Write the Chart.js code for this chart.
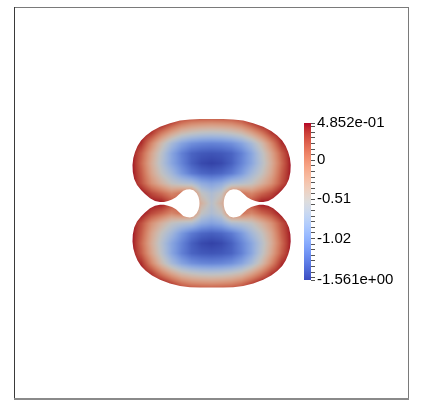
<!DOCTYPE html>
<html lang="en">
<head>
  <meta charset="UTF-8">
  <title>Scalar field</title>
  <script src="https://cdn.jsdelivr.net/npm/chart.js"></script>
  <style>
    body { margin: 0; background: #ffffff; }
    #wrap { position: relative; width: 423px; height: 407px; }
    #field { position: absolute; left: 0; top: 0; }
    #bar { position: absolute; left: 300px; top: 110px; }
  </style>
</head>
<body>
  <div id="wrap">
    <canvas id="field" width="423" height="407"></canvas>
    <canvas id="bar" width="101" height="183"></canvas>
  </div>

  <script>
    // domain outline (closed)
    const outlineX = [
      0,-1.16,-2.16,-3.16,-4.16,-5.16,-5.96,-6.56,-7.06,-7.41,-7.66,-7.83,-7.91,-7.88,-7.74,-7.46,-7.06,-6.66,-6.16,-5.66,-5.16,-4.76,-4.36,-3.96,-3.56,-3.21,-2.83,-2.51,-2.16,-1.81,-1.49,-1.31,-1.23,-1.21,
      -1.23,-1.31,-1.49,-1.81,-2.16,-2.51,-2.83,-3.21,-3.56,-3.96,-4.36,-4.76,-5.16,-5.66,-6.16,-6.66,-7.06,-7.46,-7.74,-7.88,-7.91,-7.83,-7.66,-7.41,-7.06,-6.56,-5.96,-5.16,-4.16,-3.16,-2.16,-1.16,0,
      1.16,2.16,3.16,4.16,5.16,5.96,6.56,7.06,7.41,7.66,7.83,7.91,7.88,7.74,7.46,7.06,6.66,6.16,5.66,5.16,4.76,4.36,3.96,3.56,3.21,2.83,2.51,2.16,1.81,1.49,1.31,1.23,1.21,
      1.23,1.31,1.49,1.81,2.16,2.51,2.83,3.21,3.56,3.96,4.36,4.76,5.16,5.66,6.16,6.66,7.06,7.46,7.74,7.88,7.91,7.83,7.66,7.41,7.06,6.56,5.96,5.16,4.16,3.16,2.16,1.16
    ];
    const outlineY = [
      8.43,8.43,8.39,8.27,8.01,7.65,7.23,6.78,6.28,5.73,5.13,4.53,3.83,3.13,2.43,1.83,1.33,0.93,0.50,0.24,0.14,0.14,0.24,0.37,0.60,0.93,1.26,1.38,1.41,1.31,1.00,0.63,0.28,0,
      -0.28,-0.63,-1.00,-1.31,-1.41,-1.38,-1.26,-0.93,-0.60,-0.37,-0.24,-0.14,-0.14,-0.24,-0.50,-0.93,-1.33,-1.83,-2.43,-3.13,-3.83,-4.53,-5.13,-5.73,-6.28,-6.78,-7.23,-7.65,-8.01,-8.27,-8.39,-8.43,-8.43,
      -8.43,-8.39,-8.27,-8.01,-7.65,-7.23,-6.78,-6.28,-5.73,-5.13,-4.53,-3.83,-3.13,-2.43,-1.83,-1.33,-0.93,-0.50,-0.24,-0.14,-0.14,-0.24,-0.37,-0.60,-0.93,-1.26,-1.38,-1.41,-1.31,-1.00,-0.63,-0.28,0,
      0.28,0.63,1.00,1.31,1.41,1.38,1.26,0.93,0.60,0.37,0.24,0.14,0.14,0.24,0.50,0.93,1.33,1.83,2.43,3.13,3.83,4.53,5.13,5.73,6.28,6.78,7.23,7.65,8.01,8.27,8.39,8.43
    ];

    // sampled field: columns gridX, rows gridY (top to bottom)
    const gridX = [-8,-7,-6,-5,-4,-3,-2,-1,0,1,2,3,4,5,6,7,8];
    const gridY = [9,8,7,6,5,4,3,2,1,0,-1,-2,-3,-4,-5,-6,-7,-8,-9];
    const fieldValues = [
      [0.49,0.49,0.49,0.49,0.49,0.49,0.49,0.49,0.49,0.49,0.49,0.49,0.49,0.49,0.49,0.49,0.49],
      [0.49,0.49,0.49,0.49,0.28,0.08,-0.03,-0.07,-0.09,-0.07,-0.03,0.08,0.28,0.49,0.49,0.49,0.49],
      [0.49,0.49,0.34,0.03,-0.23,-0.44,-0.54,-0.60,-0.62,-0.60,-0.54,-0.44,-0.23,0.03,0.34,0.49,0.49],
      [0.49,0.38,-0.03,-0.42,-0.74,-0.97,-1.11,-1.17,-1.19,-1.17,-1.11,-0.97,-0.74,-0.42,-0.03,0.38,0.49],
      [0.49,0.18,-0.23,-0.60,-0.95,-1.21,-1.38,-1.44,-1.46,-1.44,-1.38,-1.21,-0.95,-0.60,-0.23,0.18,0.49],
      [0.49,0.12,-0.29,-0.64,-0.95,-1.19,-1.40,-1.52,-1.56,-1.52,-1.40,-1.19,-0.95,-0.64,-0.29,0.12,0.49],
      [0.49,0.18,-0.23,-0.54,-0.78,-1.05,-1.25,-1.36,-1.40,-1.36,-1.25,-1.05,-0.78,-0.54,-0.23,0.18,0.49],
      [0.49,0.24,-0.09,-0.33,-0.54,-0.64,-0.70,-0.91,-0.99,-0.91,-0.70,-0.64,-0.54,-0.33,-0.09,0.24,0.49],
      [0.49,0.49,0.28,0.14,-0.03,0.08,0.08,-0.54,-0.70,-0.54,0.08,0.08,-0.03,0.14,0.28,0.49,0.49],
      [0.49,0.49,0.49,0.49,0.28,0.08,0.08,-0.33,-0.62,-0.33,0.08,0.08,0.28,0.49,0.49,0.49,0.49],
      [0.49,0.49,0.28,0.14,-0.03,0.08,0.08,-0.54,-0.70,-0.54,0.08,0.08,-0.03,0.14,0.28,0.49,0.49],
      [0.49,0.24,-0.09,-0.33,-0.54,-0.64,-0.70,-0.91,-0.99,-0.91,-0.70,-0.64,-0.54,-0.33,-0.09,0.24,0.49],
      [0.49,0.18,-0.23,-0.54,-0.78,-1.05,-1.25,-1.36,-1.40,-1.36,-1.25,-1.05,-0.78,-0.54,-0.23,0.18,0.49],
      [0.49,0.12,-0.29,-0.64,-0.95,-1.19,-1.40,-1.52,-1.56,-1.52,-1.40,-1.19,-0.95,-0.64,-0.29,0.12,0.49],
      [0.49,0.18,-0.23,-0.60,-0.95,-1.21,-1.38,-1.44,-1.46,-1.44,-1.38,-1.21,-0.95,-0.60,-0.23,0.18,0.49],
      [0.49,0.38,-0.03,-0.42,-0.74,-0.97,-1.11,-1.17,-1.19,-1.17,-1.11,-0.97,-0.74,-0.42,-0.03,0.38,0.49],
      [0.49,0.49,0.34,0.03,-0.23,-0.44,-0.54,-0.60,-0.62,-0.60,-0.54,-0.44,-0.23,0.03,0.34,0.49,0.49],
      [0.49,0.49,0.49,0.49,0.28,0.08,-0.03,-0.07,-0.09,-0.07,-0.03,0.08,0.28,0.49,0.49,0.49,0.49],
      [0.49,0.49,0.49,0.49,0.49,0.49,0.49,0.49,0.49,0.49,0.49,0.49,0.49,0.49,0.49,0.49,0.49]
    ];

    // colour bar
    const barMin = -1.561;
    const barMax = 0.4852;
    const barLabelValues = [0.4852, 0, -0.51, -1.02, -1.561];
    const barLabelText = ['4.852e-01', '0', '-0.51', '-1.02', '-1.561e+00'];
    const barTicks = [0.4852, 0.437, 0.364, 0.291, 0.219, 0.146, 0.073, 0,
      -0.073, -0.146, -0.219, -0.291, -0.364, -0.437, -0.51, -0.583, -0.656, -0.729, -0.801, -0.874,
      -0.947, -1.02, -1.093, -1.166, -1.239, -1.311, -1.384, -1.457, -1.53, -1.561];

    // cool to warm
    const coolWarm = [
      [59,76,192],[68,90,204],[77,104,215],[87,117,225],[98,130,234],[108,142,241],[119,154,247],[130,165,251],
      [141,176,254],[152,185,255],[163,194,255],[174,201,253],[184,208,249],[194,213,244],[204,217,238],[213,219,230],
      [221,221,221],[229,216,209],[236,211,197],[241,204,185],[245,196,173],[247,187,160],[247,177,148],[247,166,135],
      [244,154,123],[241,141,111],[236,127,99],[229,112,88],[222,96,77],[213,80,66],[203,62,56],[192,40,47],[180,4,38]
    ];
    const surfaceShade = 0.87;

    function colorFor(v) {
      let t = (v - barMin) / (barMax - barMin);
      t = Math.max(0, Math.min(1, t)) * (coolWarm.length - 1);
      const i = Math.min(Math.floor(t), coolWarm.length - 2);
      const f = t - i;
      const a = coolWarm[i], b = coolWarm[i + 1];
      return [a[0] + (b[0] - a[0]) * f, a[1] + (b[1] - a[1]) * f, a[2] + (b[2] - a[2]) * f];
    }

    function sampleField(x, y) {
      let fi = (x - gridX[0]) / (gridX[1] - gridX[0]);
      let fj = (y - gridY[0]) / (gridY[1] - gridY[0]);
      fi = Math.max(0, Math.min(gridX.length - 1.0001, fi));
      fj = Math.max(0, Math.min(gridY.length - 1.0001, fj));
      const i = Math.floor(fi), j = Math.floor(fj);
      const u = fi - i, w = fj - j;
      const r0 = fieldValues[j], r1 = fieldValues[j + 1];
      const top = r0[i] * (1 - u) + r0[i + 1] * u;
      const bot = r1[i] * (1 - u) + r1[i + 1] * u;
      return top * (1 - w) + bot * w;
    }

    const fieldPlugin = {
      id: 'fieldPlugin',
      beforeDatasetsDraw(chart) {
        const xs = chart.scales.x, ys = chart.scales.y, ctx = chart.ctx;
        const left = Math.floor(xs.getPixelForValue(gridX[0]));
        const right = Math.ceil(xs.getPixelForValue(gridX[gridX.length - 1]));
        const top = Math.floor(ys.getPixelForValue(gridY[0]));
        const bottom = Math.ceil(ys.getPixelForValue(gridY[gridY.length - 1]));
        const w = right - left, h = bottom - top;
        const off = document.createElement('canvas');
        off.width = w; off.height = h;
        const octx = off.getContext('2d');
        const img = octx.createImageData(w, h);
        for (let py = 0; py < h; py++) {
          const y = ys.getValueForPixel(top + py + 0.5);
          for (let px = 0; px < w; px++) {
            const x = xs.getValueForPixel(left + px + 0.5);
            const c = colorFor(sampleField(x, y));
            const k = (py * w + px) * 4;
            img.data[k] = c[0] * surfaceShade;
            img.data[k + 1] = c[1] * surfaceShade;
            img.data[k + 2] = c[2] * surfaceShade;
            img.data[k + 3] = 255;
          }
        }
        octx.putImageData(img, 0, 0);

        const outline = chart.data.datasets[0].data;
        ctx.save();
        ctx.beginPath();
        outline.forEach((p, i) => {
          const X = xs.getPixelForValue(p.x), Y = ys.getPixelForValue(p.y);
          if (i === 0) ctx.moveTo(X, Y); else ctx.lineTo(X, Y);
        });
        ctx.closePath();
        ctx.clip();
        ctx.drawImage(off, left, top);
        ctx.restore();
      }
    };

    const framePlugin = {
      id: 'framePlugin',
      afterDraw(chart) {
        const ctx = chart.ctx, a = chart.chartArea;
        ctx.save();
        ctx.lineWidth = 1;
        ctx.strokeStyle = '#7a7a7a';
        ctx.beginPath();
        ctx.moveTo(a.left, a.top + 0.5); ctx.lineTo(a.right, a.top + 0.5);
        ctx.moveTo(a.right - 0.5, a.top); ctx.lineTo(a.right - 0.5, a.bottom);
        ctx.stroke();
        ctx.strokeStyle = '#3a3a3a';
        ctx.beginPath();
        ctx.moveTo(a.left + 0.5, a.top); ctx.lineTo(a.left + 0.5, a.bottom);
        ctx.stroke();
        ctx.lineWidth = 2;
        ctx.strokeStyle = '#8a8a8a';
        ctx.beginPath();
        ctx.moveTo(a.left, a.bottom - 1); ctx.lineTo(a.right, a.bottom - 1);
        ctx.stroke();
        ctx.restore();
      }
    };

    const gridPoints = [];
    gridY.forEach((y, j) => gridX.forEach((x, i) => gridPoints.push({ x: x, y: y, v: fieldValues[j][i] })));

    new Chart(document.getElementById('field'), {
      type: 'scatter',
      data: {
        datasets: [
          { label: 'outline', data: outlineX.map((x, i) => ({ x: x, y: outlineY[i] })), pointRadius: 0, showLine: false },
          { label: 'field', data: gridPoints, pointRadius: 0 }
        ]
      },
      options: {
        responsive: false,
        animation: false,
        layout: { padding: { left: 14, right: 14, top: 7, bottom: 7 } },
        plugins: { legend: { display: false }, tooltip: { enabled: false } },
        scales: {
          x: { type: 'linear', min: -19.76, max: 19.74, display: false },
          y: { type: 'linear', min: -19.67, max: 19.63, display: false }
        }
      },
      plugins: [fieldPlugin, framePlugin]
    });

    new Chart(document.getElementById('bar'), {
      type: 'bar',
      data: {
        labels: [''],
        datasets: [{
          data: [[barMin, barMax]],
          borderWidth: 0,
          barPercentage: 1,
          categoryPercentage: 1,
          backgroundColor: (c) => {
            const area = c.chart.chartArea;
            if (!area) return '#ccc';
            const g = c.chart.ctx.createLinearGradient(0, area.bottom, 0, area.top);
            coolWarm.forEach((rgb, i) => g.addColorStop(i / (coolWarm.length - 1), 'rgb(' + rgb.join(',') + ')'));
            return g;
          }
        }]
      },
      options: {
        responsive: false,
        animation: false,
        layout: { padding: { left: 4, right: 0, top: 13, bottom: 13 } },
        plugins: { legend: { display: false }, tooltip: { enabled: false } },
        scales: {
          x: { display: false },
          y: {
            position: 'right',
            min: barMin,
            max: barMax,
            afterBuildTicks: (s) => { s.ticks = barTicks.slice().sort((a, b) => a - b).map(v => ({ value: v })); },
            afterFit: (s) => { s.width = 90; },
            border: { display: false },
            grid: { drawOnChartArea: false, drawTicks: true, tickLength: 4, color: '#555' },
            ticks: {
              autoSkip: false,
              padding: 2,
              color: '#000',
              font: { family: '"Liberation Sans", Arial, sans-serif', size: 15 },
              callback: (value) => {
                const k = barLabelValues.findIndex(l => Math.abs(l - value) < 1e-6);
                return k >= 0 ? barLabelText[k] : '';
              }
            }
          }
        }
      }
    });
  </script>
</body>
</html>
